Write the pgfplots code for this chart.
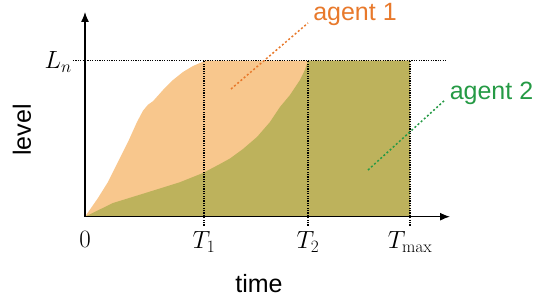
\documentclass[border=0pt]{standalone}
\usepackage{pgfplots}
\pgfplotsset{compat=1.18}
\usepackage[no-math]{fontspec}
\setmainfont{Liberation Sans}
\usetikzlibrary{arrows.meta}
\definecolor{orangefill}{HTML}{F8C78D}
\definecolor{olivefill}{HTML}{BDB25C}
\definecolor{orangetext}{HTML}{E8792B}
\definecolor{greentext}{HTML}{259A45}
\begin{document}
\begin{tikzpicture}
\begin{axis}[
  x=1pt, y=1pt,
  xmin=0, xmax=365, ymin=0, ymax=204.7,
  enlargelimits=false,
  axis lines=left,
  axis on top,
  clip=false,
  axis line style={line width=1.3pt, -{Latex[length=10pt,width=8pt]}},
  major tick length=0pt,
  xtick={0,119,223,325},
  xticklabels={$0$,$T_1$,$T_2$,$T_{\max}$},
  ytick={156},
  yticklabels={$L_n$},
  xticklabel style={inner sep=0pt, anchor=north, yshift=-15pt, font=\fontsize{24}{28}\selectfont},
  yticklabel style={inner sep=0pt, anchor=east, xshift=-13pt, yshift=-1pt, font=\fontsize{24}{28}\selectfont},
  xlabel={time},
  ylabel={level},
  xlabel style={at={(axis description cs:0.4767,-0.3273)}, anchor=center, inner sep=0pt, font=\fontsize{25}{30}\selectfont},
  ylabel style={at={(axis description cs:-0.1726,0.4236)}, anchor=center, inner sep=0pt, rotate=0, font=\fontsize{25}{30}\selectfont},
]
% agent 1 region (orange)
\addplot[fill=orangefill, draw=none] coordinates {
  (0,0) (13,18.7) (23,34.7) (33,54.7) (43,74.7) (52,94.7) (58,106) (63,112)
  (68,115.5) (78,126.7) (88,136.7) (98,144.7) (108,150.7) (118,155) (119,156)
  (325,156) (325,0)
} \closedcycle;
% agent 2 region (olive)
\addplot[fill=olivefill, draw=none] coordinates {
  (0,0) (28,13.7) (62,24.2) (95,34.5) (118,43.7) (135,52.7) (145,58.2)
  (158,67.7) (172,79.7) (185,94.7) (195,109.7) (205,121.7) (215,136.7)
  (220,147) (223,156) (325,156) (325,0)
} \closedcycle;
% dotted guide lines
\addplot[black, line width=1.2pt, dash pattern=on 1.2pt off 1.2pt] coordinates {(-12,156) (362,156)};
\addplot[black, line width=1.2pt, dash pattern=on 1.2pt off 1.2pt] coordinates {(119,-9) (119,156)};
\addplot[black, line width=1.2pt, dash pattern=on 1.2pt off 1.2pt] coordinates {(223,-9) (223,156)};
\addplot[black, line width=1.2pt, dash pattern=on 1.2pt off 1.2pt] coordinates {(325,-9) (325,156)};
% leader lines
\addplot[orangetext, line width=1.5pt, dash pattern=on 2pt off 2.2pt] coordinates {(146,127.7) (223,193.7)};
\addplot[greentext, line width=1.5pt, dash pattern=on 2pt off 2.2pt] coordinates {(283,46.7) (360,116.7)};
% annotations
\node[orangetext, anchor=center, inner sep=0pt, font=\fontsize{25}{30}\selectfont] at (axis cs:270,202.7) {agent 1};
\node[greentext, anchor=center, inner sep=0pt, font=\fontsize{25}{30}\selectfont] at (axis cs:406.5,123.7) {agent 2};
% bounding box
\path (axis cs:-85,-82.3) rectangle (axis cs:453,216.7);
\end{axis}
\end{tikzpicture}
\end{document}
